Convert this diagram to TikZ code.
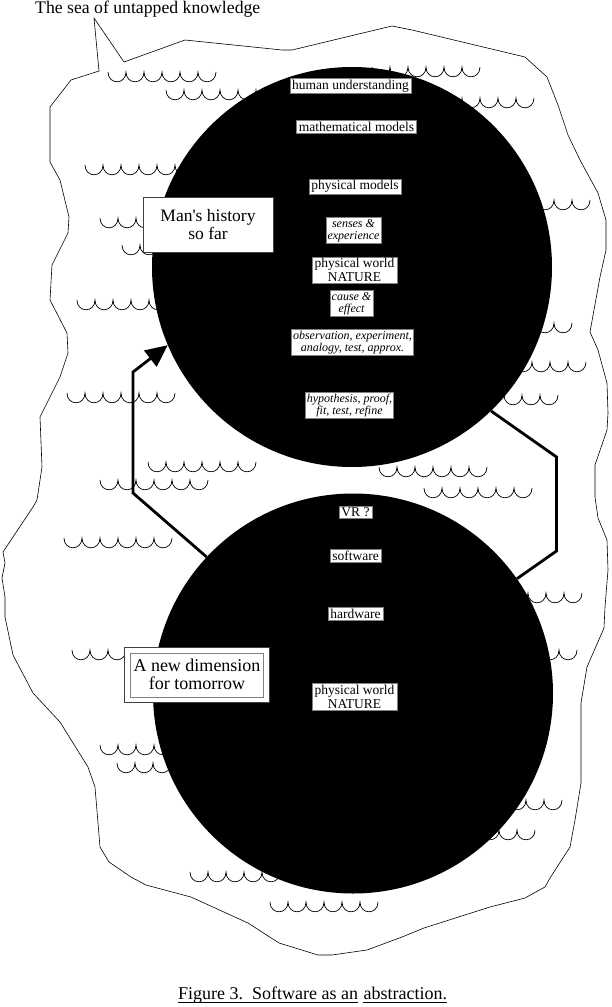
\documentclass[tikz,border=0pt]{standalone}
\usepackage{fontspec}
\setmainfont{Liberation Serif}
\usetikzlibrary{arrows.meta,calc}
\newcommand\wv[3]{\draw[wavestyle] (#1,#2) \foreach \i in {1,...,#3}{ .. controls +(0,13) and +(0,13) .. ++(18,0)};}
\begin{document}
\begin{tikzpicture}[x=1pt,y=-1pt,
  wavestyle/.style={line width=0.7pt, black},
  seaedge/.style={line width=0.6pt, black, line join=round},
  ball/.style={circle, fill=black, minimum size=400pt, inner sep=0pt},
  lab/.style={fill=white, draw=gray, line width=0.4pt, inner xsep=2.5pt, inner ysep=1.5pt, align=center, font=\fontsize{13.5}{14}\selectfont},
  ital/.style={lab, inner xsep=1.5pt, font=\fontsize{12}{12.3}\selectfont\itshape},
  bigbox/.style={fill=white, draw=gray!50!black, line width=0.7pt, align=center, font=\fontsize{17.5}{18}\selectfont},
  conn/.style={line width=2.8pt, black, line join=miter}
]
\useasboundingbox (0,0) rectangle (611,1007);
\fill[white] (0,0) rectangle (611,1007);

% title
\node[anchor=base west, inner sep=0pt, font=\fontsize{17.7}{20}\selectfont] (title) at (35,13) {The sea of untapped knowledge};

% sea outline
\draw[seaedge] (94,18) -- (99,71) -- (71,80) -- (50,107) -- (50,162) -- (60,180) -- (69,217) -- (68,233) -- (52,265) -- (50,300) -- (67,333) -- (68,353) -- (60,377) -- (40,417) -- (42,467) -- (37,500) -- (33,507) -- (3,552) -- (5,563) -- (2,578) -- (5,597) -- (5,617) -- (13,655) -- (33,693) -- (60,722) -- (88,767) -- (95,787) -- (100,847) -- (109,862) -- (131,877) -- (146,885) -- (191,897) -- (248,923) -- (279,943) -- (318,955) -- (332,955) -- (367,950) -- (402,937) -- (424,928) -- (490,907) -- (525,898) -- (545,887) -- (550,878) -- (570,847) -- (575,820) -- (581,783) -- (581,703) -- (587,667) -- (604,628) -- (605,607) -- (608,570) -- (607,540) -- (598,518) -- (595,497) -- (595,465) -- (607,430) -- (608,413) -- (607,383) -- (598,350) -- (590,332) -- (600,277) -- (606,250) -- (606,220) -- (598,193) -- (580,160) -- (568,135) -- (558,105) -- (547,77) -- (525,57) -- (412,30) -- (392,26) -- (292,50) -- (282,50) -- (185,40) -- (124,62) -- cycle;

% waves
\wv{108}{72}{6}
\wv{166}{90}{6}
\wv{372}{67}{6}
\wv{444}{98}{5}
\wv{85}{165}{6}
\wv{100}{218}{4}
\wv{122}{245}{3}
\wv{77}{300}{5}
\wv{67}{393}{6}
\wv{148}{462}{6}
\wv{100}{480}{6}
\wv{64}{538}{6}
\wv{72}{650}{3}
\wv{100}{745}{5}
\wv{117}{763}{4}
\wv{190}{872}{6}
\wv{270}{902}{6}
\wv{536}{200}{3}
\wv{536}{323}{2}
\wv{514}{362}{4}
\wv{504}{395}{3}
\wv{379}{467}{6}
\wv{424}{488}{6}
\wv{510}{593}{4}
\wv{541}{650}{2}
\wv{490}{800}{4}
\wv{481}{830}{3}

% circles
\node[ball] (up) at (352,267) {};
\node[ball] (lo) at (353,693.5) {};

% connectors
\coordinate (c1) at (133,493);
\coordinate (c2) at (133,372);
\coordinate (c3) at (556.5,457);
\coordinate (c4) at (556.5,551);
\draw[conn, -{Triangle[length=22pt,width=20pt]}] (lo.137) -- (c1) -- (c2) -- (up.-157.3);
\draw[conn] (up.-46) -- (c3) -- (c4) -- (lo.35.2);

% upper circle labels
\node[lab] (hu) at (350.5,86) {human understanding};
\node[lab] (mm) at (356.5,126.5) {mathematical models};
\node[lab] (pm) at (355,186.5) {physical models};
\node[ital] (se) at (353.5,230.5) {senses \&\\experience};
\node[lab] (pw) at (354.5,270) {physical world\\NATURE};
\node[ital] (ce) at (351.5,303.5) {cause \&\\effect};
\node[ital] (ob) at (352.5,342.5) {observation, experiment,\\analogy, test, approx.};
\node[ital] (hy) at (349.5,405.5) {hypothesis, proof,\\fit, test, refine};

% lower circle labels
\node[lab] (vr) at (355.5,512.5) {VR ?};
\node[lab] (sw) at (355.5,555.5) {software};
\node[lab] (hw) at (355.5,613.5) {hardware};
\node[lab] (pw2) at (354.5,696.5) {physical world\\NATURE};

% side boxes
\node[bigbox, minimum width=130pt, minimum height=55pt] (mh) at (208,224.5) {Man\textquotesingle s history\\so far};
\node[bigbox, minimum width=145pt, minimum height=55pt, font=\fontsize{18}{18.3}\selectfont] (nd) at (197,674.5) {A new dimension\\for tomorrow};
\draw[gray, line width=0.5pt] ($(nd.south west)+(6,-5.5)$) rectangle ($(nd.north east)+(-6.5,6.5)$);

% caption
\node[anchor=base west, inner sep=0pt, font=\fontsize{18}{20}\selectfont] (cap1) at (178,999) {Figure 3.\ \ Software as an};
\node[anchor=base west, inner sep=0pt, font=\fontsize{18}{20}\selectfont] (cap2) at ($(cap1.base east)+(5,0)$) {abstraction.};
\draw[line width=0.6pt] ($(cap1.base west)+(0,3)$) -- ($(cap1.base east)+(0,3)$);
\draw[line width=0.6pt] ($(cap2.base west)+(0,3)$) -- ($(cap2.base east)+(0,3)$);
\end{tikzpicture}
\end{document}
